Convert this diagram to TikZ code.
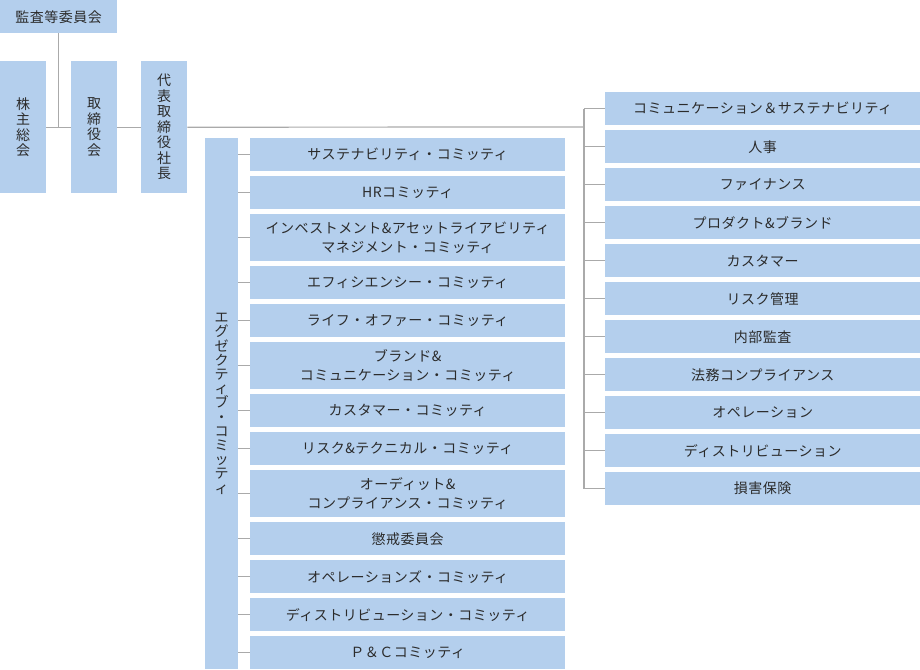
\documentclass[tikz,border=0pt]{standalone}
\usepackage{fontspec}
\setmainfont{Noto Sans CJK JP}[LetterSpace=3.5]
\definecolor{boxblue}{HTML}{B4CFED}
\definecolor{linegray}{HTML}{AAAAAA}
\definecolor{txt}{HTML}{2B2B2B}
\begin{document}
\begin{tikzpicture}[x=1pt,y=-1pt,
  box/.style={fill=boxblue, inner sep=0pt, text=txt, align=center,
    font=\fontsize{14}{19}\selectfont, anchor=north west},
  vbox/.style={box, minimum width=46pt, minimum height=132pt, font=\fontsize{14}{15.5}\selectfont},
  cbox/.style={box, minimum width=315pt, minimum height=33pt},
  cbox2/.style={box, minimum width=315pt, minimum height=47pt},
  link/.style={draw=linegray, line width=1.2pt}]
\useasboundingbox (0,0) rectangle (920,669);
% left
\node[box, minimum width=117pt, minimum height=33pt] (kansa) at (0,0) {監査等委員会};
\node[vbox] (kabu) at (0,61) {株\\主\\総\\会};
\node[vbox] (tori) at (71,61) {取\\締\\役\\会};
\node[vbox] (daihyo) at (141,61) {代\\表\\取\\締\\役\\社\\長};
\node[box, minimum width=33pt, minimum height=531pt, font=\fontsize{14}{14.2}\selectfont] (exec) at (205,138)
  {エ\\グ\\ゼ\\ク\\テ\\ィ\\ブ\\・\\コ\\ミ\\ッ\\テ\\ィ};
% committees
\node[cbox] (c1) at (250,138) {サステナビリティ・コミッティ};
\node[cbox] (c2) at (250,176) {HRコミッティ};
\node[cbox2] (c3) at (250,214) {インベストメント\&アセットライアビリティ\\マネジメント・コミッティ};
\node[cbox] (c4) at (250,266) {エフィシエンシー・コミッティ};
\node[cbox] (c5) at (250,304) {ライフ・オファー・コミッティ};
\node[cbox2] (c6) at (250,342) {ブランド\&\\コミュニケーション・コミッティ};
\node[cbox] (c7) at (250,394) {カスタマー・コミッティ};
\node[cbox] (c8) at (250,432) {リスク\&テクニカル・コミッティ};
\node[cbox2] (c9) at (250,470) {オーディット\&\\コンプライアンス・コミッティ};
\node[cbox] (c10) at (250,522) {懲戒委員会};
\node[cbox] (c11) at (250,560) {オペレーションズ・コミッティ};
\node[cbox] (c12) at (250,598) {ディストリビューション・コミッティ};
\node[cbox] (c13) at (250,636) {Ｐ＆Ｃコミッティ};
% right
\node[cbox] (r1) at (605,92) {コミュニケーション＆サステナビリティ};
\node[cbox] (r2) at (605,130) {人事};
\node[cbox] (r3) at (605,168) {ファイナンス};
\node[cbox] (r4) at (605,206) {プロダクト\&ブランド};
\node[cbox] (r5) at (605,244) {カスタマー};
\node[cbox] (r6) at (605,282) {リスク管理};
\node[cbox] (r7) at (605,320) {内部監査};
\node[cbox] (r8) at (605,358) {法務コンプライアンス};
\node[cbox] (r9) at (605,396) {オペレーション};
\node[cbox] (r10) at (605,434) {ディストリビューション};
\node[cbox] (r11) at (605,472) {損害保険};
% connectors
\coordinate (rj) at (584,127);
\draw[link] (kansa.south) -- (kansa.south |- kabu.east);
\draw[link] (kabu.east) -- (tori.west);
\draw[link] (tori.east) -- (daihyo.west);
\draw[link] (daihyo.east) -- (rj);
\draw[link] (rj |- r1.west) -- (rj |- r11.west);
\foreach \i in {1,...,11} \draw[link] (rj |- r\i.west) -- (r\i.west);
\foreach \i in {1,...,13} \draw[link] (exec.east |- c\i.west) -- (c\i.west);
\end{tikzpicture}
\end{document}
